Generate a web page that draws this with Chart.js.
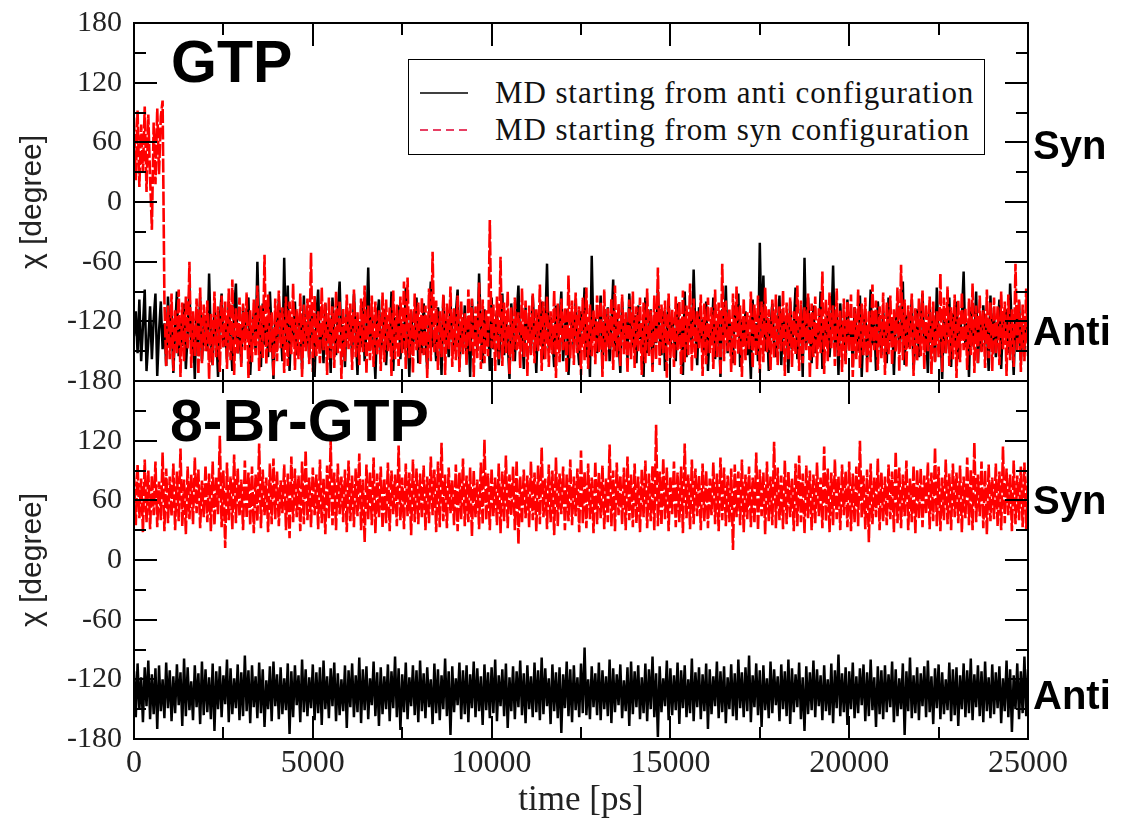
<!DOCTYPE html>
<html>
<head>
<meta charset="utf-8">
<script src="https://cdn.jsdelivr.net/npm/chart.js@4.4.1/dist/chart.umd.min.js"></script>
<style>
html,body{margin:0;padding:0;background:#fff;}
#wrap{position:relative;width:1125px;height:822px;overflow:hidden;background:#fff;}
#c1{position:absolute;left:0;top:0;}
#c2{position:absolute;left:0;top:360px;}
.big{position:absolute;font-family:'Liberation Sans',Arial,sans-serif;font-weight:bold;color:#000;line-height:1;white-space:nowrap;}
#legend{position:absolute;left:408px;top:59px;width:575px;height:94px;border:1.5px solid #000;background:#fff;font-family:'Liberation Serif','Times New Roman',serif;font-size:31px;letter-spacing:0.9px;color:#111;}
#legend .row{position:absolute;left:0;height:36px;line-height:36px;white-space:nowrap;}
#legend svg{position:absolute;left:11px;top:0;}
#legend span{position:absolute;left:86px;top:0;}
</style>
</head>
<body>
<div id="wrap">
  <canvas id="c1" width="1125" height="400"></canvas>
  <canvas id="c2" width="1125" height="462"></canvas>
  <div class="big" style="left:171px;top:33px;font-size:59px;">GTP</div>
  <div class="big" style="left:170px;top:392px;font-size:59px;">8-Br-GTP</div>
  <div class="big" style="left:1033px;top:125px;font-size:40px;">Syn</div>
  <div class="big" style="left:1033px;top:311px;font-size:40px;">Anti</div>
  <div class="big" style="left:1033px;top:480px;font-size:40px;">Syn</div>
  <div class="big" style="left:1033px;top:675px;font-size:40px;">Anti</div>
  <div id="legend">
    <div class="row" style="top:15px;"><svg width="60" height="36"><line x1="0" y1="18" x2="48" y2="18" stroke="#000" stroke-width="1.5"/></svg><span>MD starting from anti configuration</span></div>
    <div class="row" style="top:52px;"><svg width="60" height="36"><line x1="0" y1="18" x2="48" y2="18" stroke="#e00030" stroke-width="1.5" stroke-dasharray="8,5"/></svg><span>MD starting from syn configuration</span></div>
  </div>
</div>
<script>
// sampling interval of the trajectories (ps)
const tStep = 50;

// GTP, MD started from anti configuration (degree)
const gtpAnti = [
-135,-110,-152,-98,-160,-125,-88,-170,-140,-105,-158,-118,-92,-175,-130,-100,-148,-122,-165,-95,
-138,-112,-172,-128,-90,-155,-118,-145,-102,-168,-132,-85,-150,-120,-178,-108,-142,-96,-160,-126,
-114,-150,-72,-138,-164,-104,-130,-176,-118,-92,-146,-124,-158,-100,-136,-170,-110,-82,-152,-128,
-162,-106,-140,-120,-96,-174,-134,-112,-150,-60,-128,-166,-102,-144,-118,-156,-90,-132,-178,-116,
-148,-98,-126,-160,-56,-142,-84,-170,-122,-136,-100,-154,-130,-112,-168,-94,-146,-120,-158,-104,
-134,-176,-116,-88,-150,-126,-162,-102,-140,-118,-172,-96,-132,-154,-110,-80,-144,-124,-166,-106,
-138,-114,-156,-92,-130,-174,-120,-146,-100,-160,-128,-66,-150,-112,-140,-178,-118,-98,-152,-134,
-108,-164,-126,-142,-90,-170,-116,-136,-104,-158,-122,-148,-86,-132,-176,-110,-144,-128,-96,-162,
-120,-152,-102,-138,-168,-114,-80,-146,-130,-160,-106,-124,-174,-94,-140,-118,-156,-100,-134,-150,
-112,-88,-166,-128,-144,-104,-158,-122,-176,-98,-136,-116,-150,-72,-130,-162,-108,-142,-120,-170,
-96,-148,-126,-110,-164,-134,-92,-154,-118,-140,-178,-102,-132,-160,-114,-84,-146,-124,-168,-106,
-138,-120,-152,-94,-130,-172,-112,-144,-100,-158,-126,-62,-150,-116,-136,-166,-104,-140,-122,-90,
-160,-128,-108,-174,-134,-118,-148,-98,-142,-164,-110,-130,-86,-156,-124,-176,-54,-138,-116,-152,
-132,-94,-168,-120,-144,-106,-160,-126,-78,-150,-112,-140,-172,-100,-134,-118,-158,-92,-128,-146,
-114,-162,-104,-138,-124,-176,-96,-152,-130,-108,-166,-120,-142,-88,-136,-154,-110,-170,-126,-98,
-148,-116,-134,-160,-102,-140,-122,-174,-90,-156,-128,-112,-146,-68,-132,-164,-106,-138,-118,-150,
-100,-170,-124,-142,-96,-158,-130,-114,-176,-108,-136,-84,-152,-120,-144,-162,-104,-128,-92,-166,
-118,-140,-110,-154,-132,-178,-98,-146,-122,-160,-41,-134,-74,-150,-116,-170,-126,-102,-142,-156,
-130,-94,-164,-112,-138,-120,-172,-100,-148,-124,-86,-158,-134,-108,-176,-56,-144,-96,-130,-162,
-104,-152,-126,-140,-90,-168,-118,-136,-110,-156,-128,-64,-146,-114,-174,-102,-138,-122,-160,-98,
-142,-120,-166,-106,-132,-150,-94,-176,-124,-112,-158,-136,-88,-144,-118,-170,-100,-128,-154,-110,
-134,-162,-96,-140,-116,-174,-122,-104,-150,-130,-80,-164,-114,-146,-126,-98,-168,-138,-108,-156,
-120,-92,-148,-132,-172,-102,-142,-118,-160,-86,-136,-124,-178,-110,-152,-128,-96,-166,-112,-144,
-100,-158,-130,-116,-70,-146,-122,-176,-106,-140,-134,-90,-162,-118,-150,-104,-138,-126,-170,-94,
-144,-112,-156,-128,-98,-168,-120,-136,-108,-152,-82,-130,-174,-114,-142,-100,-160,-124,-148,-116,
-132];

// GTP, MD started from syn configuration (degree)
const gtpSyn = [
85,22,92,15,78,30,96,10,88,25,-28,80,18,94,28,86,102,-98,-165,-104,
-158,-92,-170,-108,-152,-88,-176,-101,-160,-95,-148,-60,-167,-110,-155,-97,-173,-86,-162,-103,
-150,-99,-178,-112,-164,-90,-156,-105,-171,-94,-146,-100,-168,-87,-159,-78,-174,-107,-153,-96,
-166,-102,-149,-91,-177,-109,-161,-98,-154,-84,-170,-104,-157,-53,-163,-93,-151,-111,-175,-97,
-160,-89,-147,-106,-172,-95,-165,-100,-153,-82,-169,-108,-158,-92,-176,-103,-150,-97,-163,-51,
-171,-94,-155,-110,-162,-86,-149,-101,-174,-96,-157,-105,-167,-90,-152,-99,-178,-107,-160,-93,
-148,-102,-169,-88,-156,-111,-164,-97,-151,-84,-173,-104,-159,-94,-166,-100,-154,-109,-170,-91,
-161,-98,-150,-106,-175,-89,-158,-103,-165,-95,-152,-80,-168,-76,-157,-108,-172,-92,-149,-101,
-163,-96,-154,-104,-177,-87,-160,-50,-151,-99,-169,-110,-156,-93,-174,-102,-148,-85,-166,-107,
-159,-94,-171,-100,-153,-112,-164,-88,-150,-97,-176,-105,-157,-81,-168,-98,-162,-109,-155,-18,
-147,-103,-170,-95,-158,-55,-165,-101,-152,-90,-173,-106,-160,-96,-149,-111,-167,-87,-156,-99,
-175,-104,-154,-92,-162,-108,-150,-83,-170,-100,-158,-95,-166,-110,-153,-89,-177,-102,-161,-97,
-149,-106,-172,-74,-157,-99,-164,-91,-152,-105,-174,-96,-159,-86,-168,-103,-155,-109,-163,-94,
-151,-100,-176,-88,-160,-107,-148,-97,-169,-84,-156,-102,-165,-93,-153,-111,-172,-98,-158,-90,
-167,-105,-150,-96,-174,-101,-162,-87,-155,-109,-171,-94,-159,-66,-164,-103,-152,-99,-177,-92,
-157,-108,-166,-95,-149,-100,-173,-89,-161,-104,-154,-82,-170,-97,-158,-110,-147,-93,-175,-102,
-163,-96,-152,-106,-168,-88,-156,-101,-174,-62,-160,-99,-150,-107,-171,-92,-165,-85,-153,-104,
-176,-97,-159,-111,-148,-90,-167,-103,-155,-94,-172,-100,-161,-86,-151,-108,-169,-98,-157,-93,
-164,-105,-150,-89,-175,-101,-158,-96,-166,-110,-153,-84,-170,-99,-162,-106,-149,-92,-177,-102,
-156,-95,-168,-107,-152,-70,-173,-98,-160,-91,-147,-104,-165,-87,-155,-109,-171,-97,-163,-100,
-150,-93,-176,-106,-158,-88,-167,-102,-154,-96,-172,-110,-161,-83,-149,-99,-169,-105,-157,-91,
-174,-101,-153,-94,-164,-108,-151,-86,-170,-63,-159,-98,-166,-104,-148,-92,-175,-107,-160,-97,
-155,-89,-168,-103,-150,-95,-173,-100,-162,-110,-156,-72,-171,-96,-152,-85,-165,-106,-158,-93,
-177,-99,-161,-91,-149,-107,-169,-97,-154,-82,-172,-104,-163,-94,-151,-109,-167,-88,-157,-101,
-170,-96,-153,-105,-164,-90,-148,-100,-175,-93,-159,-108,-166,-62,-152,-98,-171,-103,-160,-87,
-155];

// 8-Br-GTP, MD started from anti configuration (degree)
const brAnti = [
-112,-158,-104,-150,-118,-163,-108,-147,-101,-160,-115,-155,-109,-170,-106,-152,-120,-159,-103,-149,
-111,-162,-117,-154,-105,-146,-113,-167,-99,-157,-108,-151,-122,-161,-106,-148,-114,-165,-102,-156,
-110,-153,-118,-160,-104,-172,-112,-150,-107,-158,-116,-145,-100,-163,-109,-155,-119,-149,-105,-161,
-113,-157,-96,-152,-111,-164,-106,-148,-117,-159,-103,-154,-110,-168,-121,-150,-107,-162,-102,-147,
-115,-160,-108,-155,-119,-151,-104,-175,-112,-158,-106,-146,-116,-163,-100,-153,-110,-157,-118,-149,
-105,-161,-113,-154,-108,-166,-101,-150,-117,-159,-109,-147,-103,-162,-114,-156,-120,-152,-106,-169,
-111,-148,-104,-158,-116,-153,-98,-164,-110,-151,-107,-160,-119,-146,-102,-157,-113,-167,-108,-155,
-117,-150,-105,-162,-112,-149,-97,-158,-109,-171,-115,-153,-103,-160,-118,-147,-106,-156,-111,-163,
-101,-152,-114,-159,-108,-148,-120,-165,-104,-154,-110,-161,-116,-150,-99,-157,-112,-176,-107,-153,
-119,-146,-103,-160,-111,-155,-106,-163,-115,-149,-102,-158,-109,-152,-117,-166,-105,-151,-113,-159,
-108,-154,-100,-162,-116,-147,-110,-157,-104,-169,-118,-152,-107,-160,-112,-148,-101,-156,-114,-164,
-106,-150,-117,-158,-103,-153,-111,-161,-98,-155,-109,-147,-119,-165,-105,-152,-113,-159,-108,-174,
-115,-149,-102,-157,-110,-163,-106,-151,-118,-158,-104,-154,-88,-156,-120,-160,-107,-148,-114,-156,
-103,-161,-111,-150,-117,-157,-100,-164,-109,-153,-115,-146,-105,-159,-121,-152,-108,-167,-102,-155,
-112,-148,-106,-160,-118,-154,-104,-162,-110,-150,-97,-158,-114,-178,-107,-153,-119,-147,-101,-161,
-109,-156,-116,-151,-103,-165,-111,-149,-106,-158,-120,-154,-99,-162,-113,-148,-108,-160,-115,-152,
-104,-170,-110,-155,-117,-147,-102,-159,-112,-153,-107,-164,-118,-150,-105,-157,-114,-161,-100,-149,
-113,-158,-108,-152,-96,-163,-116,-148,-104,-156,-111,-168,-106,-151,-119,-159,-102,-154,-110,-146,
-117,-162,-105,-150,-112,-157,-100,-165,-109,-153,-115,-148,-103,-160,-118,-172,-107,-155,-113,-151,
-101,-158,-110,-147,-116,-161,-106,-152,-120,-156,-104,-164,-111,-149,-95,-157,-114,-153,-108,-166,
-112,-150,-103,-159,-117,-154,-109,-146,-105,-162,-113,-157,-100,-151,-118,-168,-107,-155,-111,-160,
-106,-153,-115,-148,-102,-163,-110,-157,-119,-150,-104,-176,-112,-152,-98,-159,-116,-154,-108,-161,
-114,-147,-107,-158,-101,-153,-117,-165,-109,-149,-105,-160,-113,-155,-120,-151,-103,-162,-110,-156,
-108,-167,-116,-150,-104,-158,-111,-154,-99,-161,-115,-148,-106,-157,-112,-163,-102,-152,-118,-159,
-105,-155,-113,-149,-107,-164,-119,-152,-101,-158,-110,-173,-116,-150,-104,-160,-112,-154,-97,-157,
-110];

// 8-Br-GTP, MD started from syn configuration (degree)
const brSyn = [
88,35,96,42,82,28,101,38,90,31,85,45,99,33,79,40,108,29,92,37,
84,44,97,30,89,39,112,34,81,26,94,41,86,36,103,47,91,32,80,43,
95,38,87,29,99,35,83,46,125,33,90,12,98,40,84,31,106,37,92,44,
81,30,100,42,88,35,94,27,86,39,117,32,91,45,83,28,97,36,102,41,
89,34,80,47,96,30,87,22,104,38,92,43,85,29,99,36,110,40,83,33,
93,45,86,31,101,37,82,26,95,42,120,35,88,30,97,46,84,38,91,28,
100,39,85,33,92,44,107,30,81,18,96,41,89,35,103,27,87,43,94,32,
82,37,98,29,90,46,86,34,115,40,83,31,97,44,88,25,101,38,92,36,
87,42,95,30,84,37,104,45,91,28,99,33,118,39,86,32,93,47,80,35,
96,29,88,41,102,34,85,38,93,24,90,43,81,31,98,36,121,40,87,30,
92,44,83,35,97,27,89,39,105,32,86,45,94,30,100,16,84,37,91,42,
85,33,99,40,88,29,95,36,113,43,82,31,96,38,90,25,103,34,87,46,
94,30,86,39,101,35,84,44,92,28,110,37,89,32,97,41,83,27,99,36,
88,42,95,31,82,38,116,34,90,29,98,45,85,36,93,30,104,40,86,33,
97,37,84,28,91,43,100,32,87,39,95,30,136,34,89,35,102,41,93,29,
84,46,99,33,88,38,94,27,117,42,86,31,101,36,92,44,85,30,97,39,
90,32,82,45,98,36,87,29,103,40,93,34,85,38,92,10,96,43,89,35,
101,28,86,41,94,33,83,37,108,30,91,44,88,26,99,39,84,35,119,32,
93,40,85,31,100,36,89,43,82,29,97,34,105,38,87,27,95,42,90,30,
86,37,98,44,83,32,114,39,92,28,88,35,101,41,84,30,96,45,89,33,
99,29,87,38,94,34,120,42,85,31,91,18,97,36,83,43,102,30,88,39,
84,35,96,41,89,28,109,37,93,32,86,44,100,30,82,38,95,27,91,42,
92,33,85,46,98,31,88,39,113,34,94,29,83,40,101,36,87,30,97,43,
88,37,95,28,84,42,103,35,91,30,118,38,86,44,99,32,90,26,96,39,
83,41,97,34,89,30,114,37,92,45,86,29,100,36,85,40,94,33,98,31,
88];

const yTicks = [-180,-120,-60,0,60,120,180];
const xTicks = [0,5000,10000,15000,20000,25000];
const xMin = 0, xMax = 25000, yMin = -180, yMax = 180;

function pts(arr){ return arr.map((v,i)=>({x:i*tStep, y:v})); }

// frame + inward major/minor ticks on all four sides
const frameTicks = {
  id:'frameTicks',
  afterDatasetsDraw(chart){
    const {ctx, chartArea:a, scales:{x,y}} = chart;
    ctx.save();
    ctx.strokeStyle = '#000';
    ctx.lineWidth = 2;
    ctx.setLineDash([]);
    ctx.beginPath();
    const yMinor = yTicks.slice(0,-1).map((v,i)=>(v+yTicks[i+1])/2);
    const xMinor = xTicks.slice(0,-1).map((v,i)=>(v+xTicks[i+1])/2);
    const yLine = (v,L)=>{ const p = Math.round(y.getPixelForValue(v)); ctx.moveTo(a.left,p); ctx.lineTo(a.left+L,p); ctx.moveTo(a.right,p); ctx.lineTo(a.right-L,p); };
    const xLine = (v,L)=>{ const p = Math.round(x.getPixelForValue(v)); ctx.moveTo(p,a.bottom); ctx.lineTo(p,a.bottom-L); ctx.moveTo(p,a.top); ctx.lineTo(p,a.top+L); };
    yTicks.forEach(v=>yLine(v,23)); yMinor.forEach(v=>yLine(v,12));
    xTicks.forEach(v=>xLine(v,23)); xMinor.forEach(v=>xLine(v,12));
    ctx.stroke();
    ctx.strokeRect(a.left, a.top, a.width, a.height);
    ctx.restore();
  }
};

const serif = "'Liberation Serif','Times New Roman',serif";
const sans = "'Liberation Sans',Arial,sans-serif";

function makeChart(id, datasets, cfg){
  return new Chart(document.getElementById(id), {
    type:'line',
    data:{datasets},
    options:{
      responsive:false, animation:false, events:[],
      layout:{padding:cfg.padding},
      plugins:{legend:{display:false}, tooltip:{enabled:false}},
      elements:{point:{radius:0}, line:{tension:0}},
      scales:{
        x:{
          type:'linear', min:xMin, max:xMax, display:cfg.showX,
          afterFit: s=>{ s.paddingLeft = 0; s.paddingRight = 0; if (cfg.showX) s.height = 83; },
          afterBuildTicks: s=>{ s.ticks = xTicks.map(v=>({value:v})); },
          grid:{display:false, drawTicks:false}, border:{display:false},
          ticks:{autoSkip:false, maxRotation:0, padding:5, color:'#222', font:{family:serif, size:32}, callback:v=>String(v)},
          title:{display:true, text:'time [ps]', color:'#222', font:{family:serif, size:35, lineHeight:1}, padding:{top:0,bottom:4}}
        },
        y:{
          type:'linear', min:yMin, max:yMax,
          afterFit: s=>{ s.width = 134; s.paddingTop = 0; s.paddingBottom = 0; },
          afterBuildTicks: s=>{ s.ticks = yTicks.map(v=>({value:v})); },
          grid:{display:false, drawTicks:false}, border:{display:false},
          ticks:{autoSkip:false, padding:12, color:'#222', font:{family:serif, size:30}, callback:v=>(cfg.hideTop && v===yMax) ? '' : String(v)},
          title:{display:true, text:'χ [degree]', color:'#222', font:{family:sans, size:30, lineHeight:1}, padding:{top:18,bottom:0}}
        }
      }
    },
    plugins:[frameTicks]
  });
}

const dsStyle = {
  anti:{borderColor:'#000000', borderWidth:2.5, order:1},
  syn:{borderColor:'#ff0000', borderWidth:2.6, borderDash:[14,2.5], order:0}
};

makeChart('c1', [
  Object.assign({label:'MD starting from anti configuration', data:pts(gtpAnti)}, dsStyle.anti),
  Object.assign({label:'MD starting from syn configuration', data:pts(gtpSyn)}, dsStyle.syn)
], {padding:{top:23,right:97,bottom:19,left:0}, showX:false, hideTop:false});

makeChart('c2', [
  Object.assign({label:'MD starting from anti configuration', data:pts(brAnti)}, dsStyle.anti),
  Object.assign({label:'MD starting from syn configuration', data:pts(brSyn)}, dsStyle.syn)
], {padding:{top:21,right:97,bottom:0,left:0}, showX:true, hideTop:true});
</script>
</body>
</html>
